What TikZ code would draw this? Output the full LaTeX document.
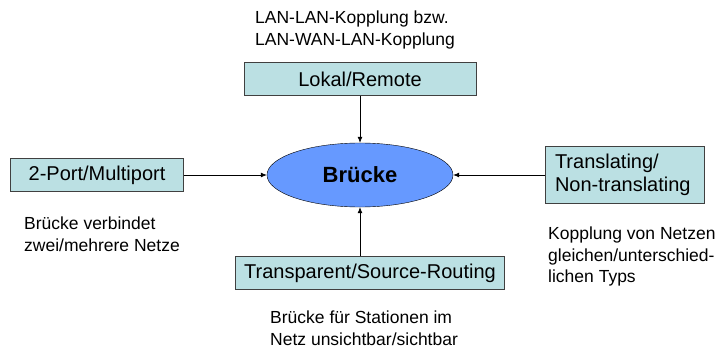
\documentclass[tikz,border=0pt]{standalone}
\usepackage{fontspec}
\setmainfont{Liberation Sans}
\usetikzlibrary{shapes.geometric,arrows.meta}
\definecolor{kastenfarbe}{RGB}{187,224,227}
\definecolor{brueckenblau}{RGB}{102,153,255}

\begin{document}
\begin{tikzpicture}[x=1pt,y=-1pt,
    kasten/.style={draw=black!75,fill=kastenfarbe,font=\fontsize{20}{23}\selectfont,minimum height=33pt,inner sep=0pt},
    notiz/.style={anchor=north west,align=left,inner sep=0pt,font=\fontsize{17.5}{21.5}\selectfont},
    pfeil/.style={-{Latex[length=6pt,width=5pt]},line width=0.7pt}]
    \useasboundingbox (0,0) rectangle (720,356);
    % Mitte
    \node[ellipse,draw,fill=brueckenblau,minimum width=186pt,minimum height=64pt,inner sep=0pt,
          font=\fontsize{22}{26}\selectfont\bfseries] (bruecke) at (360,175) {Brücke};
    % Kaesten
    \node[kasten,minimum width=232pt] (lokal) at (360,79) {Lokal/Remote};
    \node[kasten,minimum width=173pt] (port) at (97,175) {2-Port/Multiport};
    \node[kasten,minimum height=57pt,text width=139pt,inner xsep=10pt,align=left] (trans) at (624.5,175) {Translating/\\Non-translating};
    \node[kasten,minimum width=269pt] (routing) at (370,273) {Transparent/Source-Routing};
    % Notizen
    \node[notiz] (n1) at (255,11) {LAN-LAN-Kopplung bzw.\\LAN-WAN-LAN-Kopplung};
    \node[notiz] (n2) at (24,217) {Brücke verbindet\\zwei/mehrere Netze};
    \node[notiz] (n3) at (548,227) {Kopplung von Netzen\\gleichen/unterschied-\\lichen Typs};
    \node[notiz] (n4) at (270,311) {Brücke für Stationen im\\Netz unsichtbar/sichtbar};
    % Pfeile
    \draw[pfeil] (lokal) -- (bruecke);
    \draw[pfeil] (port) -- (bruecke);
    \draw[pfeil] (trans) -- (bruecke);
    \draw[pfeil] (bruecke.south |- routing.north) -- (bruecke.south);
\end{tikzpicture}
\end{document}
